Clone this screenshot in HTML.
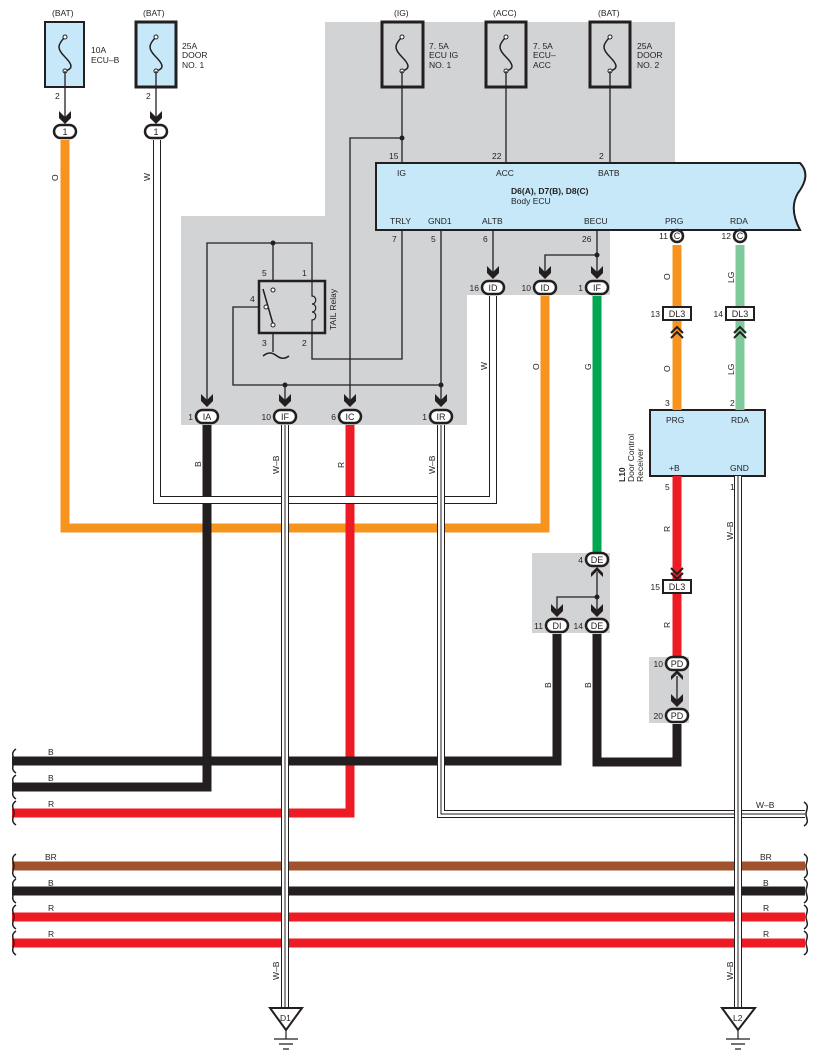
<!DOCTYPE html>
<html><head><meta charset="utf-8"><style>
html,body{margin:0;padding:0;background:#fff}
svg{display:block;font-family:"Liberation Sans",sans-serif}
</style></head><body>
<svg width="818" height="1062" viewBox="0 0 818 1062" xmlns="http://www.w3.org/2000/svg">
<defs>
<g id="chev"><path d="M-6,-17 L0,-11 L6,-17 L6,-10 L0,-4 L-6,-10 Z" fill="#231f20"/></g>
<g id="chevup"><path d="M-6,6 L0,0 L6,6 L6,10 L0,4 L-6,10 Z" fill="#231f20"/></g>
</defs>
<!-- gray regions -->
<path d="M325,22 H675 V163 H610 V295 H467 V425 H181 V216 H325 Z" fill="#d1d3d4"/>
<rect x="532" y="553" width="78" height="80" fill="#d1d3d4"/>
<rect x="649" y="657" width="40" height="66" fill="#d1d3d4"/>

<!-- fuses -->
<g stroke="#231f20" fill="#c6e8f8">
<rect x="45" y="22" width="39" height="65" stroke-width="2"/>
<rect x="136" y="22" width="40" height="65" stroke-width="3"/>
</g>
<g stroke="#231f20" fill="#d1d3d4" stroke-width="3">
<rect x="382" y="22" width="41" height="65"/>
<rect x="486" y="22" width="40" height="65"/>
<rect x="590" y="22" width="40" height="65"/>
</g>
<g stroke="#231f20" fill="none" stroke-width="1.5">
<path d="M65,37 c-8,8 -8,12 0,20 c8,8 8,12 0,14"/>
<path d="M156,37 c-8,8 -8,12 0,20 c8,8 8,12 0,14"/>
<path d="M402,37 c-8,8 -8,12 0,20 c8,8 8,12 0,14"/>
<path d="M506,37 c-8,8 -8,12 0,20 c8,8 8,12 0,14"/>
<path d="M610,37 c-8,8 -8,12 0,20 c8,8 8,12 0,14"/>
</g>
<g fill="#fff" stroke="#231f20" stroke-width="1">
<circle cx="65" cy="37" r="2"/><circle cx="65" cy="71" r="2"/>
<circle cx="156" cy="37" r="2"/><circle cx="156" cy="71" r="2"/>
<circle cx="402" cy="37" r="2"/><circle cx="402" cy="71" r="2"/>
<circle cx="506" cy="37" r="2"/><circle cx="506" cy="71" r="2"/>
<circle cx="610" cy="37" r="2"/><circle cx="610" cy="71" r="2"/>
</g>
<g font-size="8.5" fill="#231f20">
<text x="52" y="16">(BAT)</text><text x="143" y="16">(BAT)</text>
<text x="394" y="16">(IG)</text><text x="493" y="16">(ACC)</text><text x="598" y="16">(BAT)</text>
<text x="91" y="53">10A</text><text x="91" y="63">ECU–B</text>
<text x="182" y="49">25A</text><text x="182" y="58">DOOR</text><text x="182" y="68">NO. 1</text>
<text x="429" y="49">7. 5A</text><text x="429" y="58">ECU IG</text><text x="429" y="68">NO. 1</text>
<text x="533" y="49">7. 5A</text><text x="533" y="58">ECU–</text><text x="533" y="68">ACC</text>
<text x="637" y="49">25A</text><text x="637" y="58">DOOR</text><text x="637" y="68">NO. 2</text>
<text x="55" y="99">2</text><text x="146" y="99">2</text>
</g>

<!-- thin wires -->
<g stroke="#231f20" stroke-width="1.3" fill="none">
<line x1="65" y1="71" x2="65" y2="120"/>
<line x1="156" y1="71" x2="156" y2="120"/>
<line x1="402" y1="71" x2="402" y2="163"/>
<line x1="506" y1="71" x2="506" y2="163"/>
<line x1="610" y1="71" x2="610" y2="163"/>
<path d="M402,138 H350 V406"/>
<path d="M207,406 V243 H312 V281"/>
<line x1="273" y1="243" x2="273" y2="281"/>
<path d="M273,333 V352"/>
<path d="M312,333 V359 H402 V230"/>
<path d="M259,307 H233 V385 H441"/>
<line x1="441" y1="230" x2="441" y2="406"/>
<line x1="285" y1="385" x2="285" y2="406"/>
<line x1="493" y1="230" x2="493" y2="278"/>
<path d="M597,230 V278"/><path d="M597,255 H545 V278"/>
<path d="M597,572 V615"/><path d="M597,597 H557 V615"/>
<path d="M677,676 V705"/>
</g>
<path d="M263,356 c6,-5 10,-3 14,0 c4,3 8,3 12,0" stroke="#231f20" stroke-width="1.5" fill="none"/>
<g fill="#231f20">
<circle cx="402" cy="138" r="2.5"/><circle cx="273" cy="243" r="2.5"/>
<circle cx="285" cy="385" r="2.5"/><circle cx="441" cy="385" r="2.5"/>
<circle cx="597" cy="255" r="2.5"/><circle cx="557" cy="597" r="0"/><circle cx="597" cy="597" r="2.5"/>
</g>

<!-- relay -->
<rect x="259" y="281" width="66" height="52" fill="none" stroke="#231f20" stroke-width="2.5"/>
<path d="M312,281 V296 c5,0 5,8 0,8 c5,0 5,8 0,8 c5,0 5,8 0,8 V333" stroke="#231f20" stroke-width="1.2" fill="none"/>
<path d="M263,289 L273,324" stroke="#231f20" stroke-width="1.5"/>
<g fill="#fff" stroke="#231f20" stroke-width="1"><circle cx="273" cy="290" r="2"/><circle cx="266" cy="307" r="2"/><circle cx="273" cy="325" r="2"/></g>
<g font-size="8.5" fill="#231f20">
<text x="262" y="276">5</text><text x="302" y="276">1</text><text x="250" y="302">4</text>
<text x="262" y="346">3</text><text x="302" y="346">2</text>
<text transform="translate(336,330) rotate(-90)">TAIL Relay</text>
</g>

<!-- body ECU -->
<path d="M376,163 H800 c10,10 4,22 -2,30 c-6,10 -6,22 2,37 H376 Z" fill="#c6e8f8" stroke="#231f20" stroke-width="2"/>
<g font-size="8.5" fill="#231f20">
<text x="389" y="159">15</text><text x="492" y="159">22</text><text x="599" y="159">2</text>
<text x="397" y="176">IG</text><text x="496" y="176">ACC</text><text x="598" y="176">BATB</text>
<text x="511" y="194" font-weight="bold">D6(A), D7(B), D8(C)</text><text x="511" y="204">Body ECU</text>
<text x="390" y="224">TRLY</text><text x="428" y="224">GND1</text><text x="482" y="224">ALTB</text>
<text x="584" y="224">BECU</text><text x="665" y="224">PRG</text><text x="730" y="224">RDA</text>
<text x="392" y="242">7</text><text x="431" y="242">5</text><text x="483" y="242">6</text><text x="582" y="242">26</text>
</g>

<!-- L10 -->
<rect x="650" y="410" width="115" height="66" fill="#c6e8f8" stroke="#231f20" stroke-width="2"/>
<g font-size="8.5" fill="#231f20">
<text x="666" y="423">PRG</text><text x="731" y="423">RDA</text>
<text x="669" y="471">+B</text><text x="730" y="471">GND</text>
<text x="665" y="406">3</text><text x="730" y="406">2</text>
<text x="665" y="490">5</text><text x="730" y="490">1</text>
<text transform="translate(625,482) rotate(-90)" font-weight="bold">L10</text>
<text transform="translate(634,482) rotate(-90)">Door Control</text>
<text transform="translate(643,482) rotate(-90)">Receiver</text>
</g>

<!-- thick colored wires -->
<g fill="none" stroke-width="9" stroke-linejoin="miter">
<path d="M65,140 V528 H545 V296" stroke="#f7941d"/>
<path d="M207,425 V787 H12" stroke="#231f20"/>
<path d="M350,425 V813 H12" stroke="#ed1c24"/>
<path d="M597,296 V553" stroke="#00a651"/>
<path d="M557,634 V761 H12" stroke="#231f20"/>
<path d="M597,634 V762 H677 V724" stroke="#231f20"/>
<path d="M677,245 V410" stroke="#f7941d"/>
<path d="M740,245 V410" stroke="#7fc99a"/>
<path d="M677,476 V657" stroke="#ed1c24"/>
<line x1="12" y1="866" x2="805" y2="866" stroke="#a0522d"/>
<line x1="12" y1="891" x2="805" y2="891" stroke="#231f20"/>
<line x1="12" y1="917" x2="805" y2="917" stroke="#ed1c24"/>
<line x1="12" y1="943" x2="805" y2="943" stroke="#ed1c24"/>
</g>
<!-- white wires -->
<g fill="none">
<path d="M157,140 V500 H493 V296" stroke="#231f20" stroke-width="8"/>
<path d="M157,140 V500 H493 V296" stroke="#fff" stroke-width="6"/>
<path d="M285,425 V1012" stroke="#231f20" stroke-width="8"/>
<path d="M285,425 V1012" stroke="#fff" stroke-width="6"/>
<path d="M285,425 V1012" stroke="#231f20" stroke-width="1"/>
<path d="M441,425 V814 H805" stroke="#231f20" stroke-width="8"/>
<path d="M441,425 V814 H805" stroke="#fff" stroke-width="6"/>
<path d="M441,425 V814 H805" stroke="#231f20" stroke-width="1"/>
<path d="M738,476 V1012" stroke="#231f20" stroke-width="8"/>
<path d="M738,476 V1012" stroke="#fff" stroke-width="6"/>
<path d="M738,476 V1012" stroke="#231f20" stroke-width="1"/>
</g>

<!-- braces -->
<g stroke="#231f20" stroke-width="1.5" fill="none">
<path d="M16,749 c-6,4 -2,8 -2,12 c0,4 -4,8 2,12"/>
<path d="M16,775 c-6,4 -2,8 -2,12 c0,4 -4,8 2,12"/>
<path d="M16,801 c-6,4 -2,8 -2,12 c0,4 -4,8 2,12"/>
<path d="M16,854 c-6,4 -2,8 -2,12 c0,4 -4,8 2,12"/>
<path d="M16,879 c-6,4 -2,8 -2,12 c0,4 -4,8 2,12"/>
<path d="M16,905 c-6,4 -2,8 -2,12 c0,4 -4,8 2,12"/>
<path d="M16,931 c-6,4 -2,8 -2,12 c0,4 -4,8 2,12"/>
<path d="M804,802 c6,4 2,8 2,12 c0,4 4,8 -2,12"/>
<path d="M804,854 c6,4 2,8 2,12 c0,4 4,8 -2,12"/>
<path d="M804,879 c6,4 2,8 2,12 c0,4 4,8 -2,12"/>
<path d="M804,905 c6,4 2,8 2,12 c0,4 4,8 -2,12"/>
<path d="M804,931 c6,4 2,8 2,12 c0,4 4,8 -2,12"/>
</g>

<!-- grounds -->
<g stroke="#231f20" stroke-width="2" fill="#fff">
<path d="M270,1008 H302 L286,1030 Z"/><path d="M722,1008 H755 L738,1030 Z"/>
</g>
<g stroke="#231f20" stroke-width="1.2">
<path d="M286,1030 V1039 M274,1039 H298 M279,1044 H293 M283,1049 H289"/>
<path d="M738,1030 V1039 M726,1039 H750 M731,1044 H745 M735,1049 H741"/>
</g>
<g font-size="8.5" fill="#231f20"><text x="280" y="1021">D1</text><text x="733" y="1021">L2</text></g>

<!-- arrows -->
<g>
<use href="#chev" x="65" y="128"/><use href="#chev" x="156" y="128"/>
<use href="#chev" x="207" y="411"/><use href="#chev" x="285" y="411"/><use href="#chev" x="350" y="411"/><use href="#chev" x="441" y="411"/>
<use href="#chev" x="493" y="283"/><use href="#chev" x="545" y="283"/><use href="#chev" x="597" y="283"/>
<use href="#chev" x="557" y="621"/><use href="#chev" x="597" y="621"/>
<use href="#chev" x="677" y="711"/>
<use href="#chevup" x="597" y="567"/><use href="#chevup" x="677" y="670"/>
</g>
<g fill="none" stroke="#231f20" stroke-width="2">
<path d="M671,333 L677,327 L683,333 M671,338 L677,332 L683,338"/>
<path d="M734,333 L740,327 L746,333 M734,338 L740,332 L746,338"/>
<path d="M671,568 L677,574 L683,568 M671,573 L677,579 L683,573"/>
</g>

<!-- connectors -->
<g stroke="#231f20" stroke-width="2.5" fill="#fff">
<rect x="54" y="125" width="22" height="13" rx="6.5"/>
<rect x="145" y="125" width="22" height="13" rx="6.5"/>
<rect x="196" y="410" width="22" height="13" rx="6.5"/>
<rect x="274" y="410" width="22" height="13" rx="6.5"/>
<rect x="339" y="410" width="22" height="13" rx="6.5"/>
<rect x="430" y="410" width="22" height="13" rx="6.5"/>
<rect x="482" y="281" width="22" height="13" rx="6.5"/>
<rect x="534" y="281" width="22" height="13" rx="6.5"/>
<rect x="586" y="281" width="22" height="13" rx="6.5"/>
<rect x="586" y="553" width="22" height="13" rx="6.5"/>
<rect x="546" y="619" width="22" height="13" rx="6.5"/>
<rect x="586" y="619" width="22" height="13" rx="6.5"/>
<rect x="666" y="657" width="22" height="13" rx="6.5"/>
<rect x="666" y="709" width="22" height="13" rx="6.5"/>
<circle cx="677" cy="236" r="6"/><circle cx="740" cy="236" r="6"/>
</g>
<g stroke="#231f20" stroke-width="2" fill="#fff">
<rect x="663" y="307" width="28" height="13"/><rect x="726" y="307" width="28" height="13"/>
<rect x="663" y="580" width="28" height="13"/>
</g>
<g font-size="9" fill="#231f20" text-anchor="middle">
<text x="65" y="135">1</text><text x="156" y="135">1</text>
<text x="207" y="420">IA</text><text x="285" y="420">IF</text><text x="350" y="420">IC</text><text x="441" y="420">IR</text>
<text x="493" y="291">ID</text><text x="545" y="291">ID</text><text x="597" y="291">IF</text>
<text x="597" y="563">DE</text><text x="557" y="629">DI</text><text x="597" y="629">DE</text>
<text x="677" y="667">PD</text><text x="677" y="719">PD</text>
<text x="677" y="239">C</text><text x="740" y="239">C</text>
<text x="677" y="317">DL3</text><text x="740" y="317">DL3</text><text x="677" y="590">DL3</text>
</g>
<g font-size="8.5" fill="#231f20" text-anchor="end">
<text x="193" y="420">1</text><text x="271" y="420">10</text><text x="336" y="420">6</text><text x="427" y="420">1</text>
<text x="479" y="291">16</text><text x="531" y="291">10</text><text x="583" y="291">1</text>
<text x="583" y="563">4</text><text x="543" y="629">11</text><text x="583" y="629">14</text>
<text x="663" y="667">10</text><text x="663" y="719">20</text>
<text x="668" y="239">11</text><text x="731" y="239">12</text>
<text x="660" y="317">13</text><text x="723" y="317">14</text><text x="660" y="590">15</text>
</g>

<!-- wire labels -->
<g font-size="8.5" fill="#231f20">
<text transform="translate(58,181) rotate(-90)">O</text>
<text transform="translate(150,181) rotate(-90)">W</text>
<text transform="translate(487,370) rotate(-90)">W</text>
<text transform="translate(539,370) rotate(-90)">O</text>
<text transform="translate(591,370) rotate(-90)">G</text>
<text transform="translate(670,280) rotate(-90)">O</text>
<text transform="translate(734,283) rotate(-90)">LG</text>
<text transform="translate(670,372) rotate(-90)">O</text>
<text transform="translate(734,375) rotate(-90)">LG</text>
<text transform="translate(201,467) rotate(-90)">B</text>
<text transform="translate(279,474) rotate(-90)">W–B</text>
<text transform="translate(344,468) rotate(-90)">R</text>
<text transform="translate(435,474) rotate(-90)">W–B</text>
<text transform="translate(670,532) rotate(-90)">R</text>
<text transform="translate(733,540) rotate(-90)">W–B</text>
<text transform="translate(670,628) rotate(-90)">R</text>
<text transform="translate(551,688) rotate(-90)">B</text>
<text transform="translate(591,688) rotate(-90)">B</text>
<text transform="translate(279,980) rotate(-90)">W–B</text>
<text transform="translate(733,980) rotate(-90)">W–B</text>
<text x="48" y="755">B</text><text x="48" y="781">B</text><text x="48" y="807">R</text>
<text x="45" y="860">BR</text><text x="48" y="886">B</text><text x="48" y="911">R</text><text x="48" y="937">R</text>
<text x="756" y="808">W–B</text><text x="760" y="860">BR</text><text x="763" y="886">B</text><text x="763" y="911">R</text><text x="763" y="937">R</text>
</g>
</svg>
</body></html>
